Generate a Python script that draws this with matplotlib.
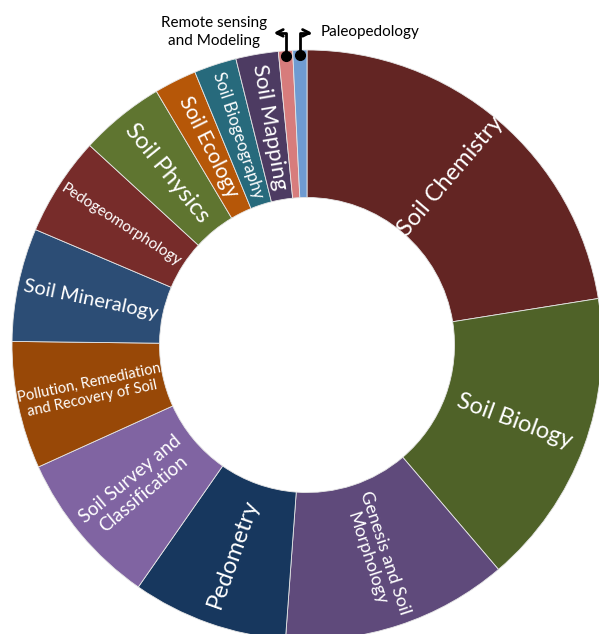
import matplotlib
matplotlib.use('Agg')
import matplotlib.pyplot as plt
import numpy as np

# number of papers per subdiscipline (clockwise from 12 o'clock)
labels = ['Soil Chemistry', 'Soil Biology', 'Genesis and Soil\nMorphology', 'Pedometry',
          'Soil Survey and\nClassification', 'Pollution, Remediation\nand Recovery of Soil',
          'Soil Mineralogy', 'Pedogeomorphology', 'Soil Physics', 'Soil Ecology',
          'Soil Biogeography', 'Soil Mapping', 'Remote sensing\nand Modeling', 'Paleopedology']
counts = [29, 21, 16, 11, 11, 9, 8, 7, 6, 3, 3, 3, 1, 1]
colors = ['#632523', '#4F6228', '#5F4A7B', '#17375E', '#8064A2', '#984807', '#2C4D75',
          '#772C2A', '#5F7530', '#B65708', '#276A7C', '#4D3B62', '#D77C7C', '#6F9BD1']
fsizes = [17, 17, 13, 17, 13.5, 10.5, 14.5, 11, 17, 15, 12, 16, 0, 0]

plt.rcParams['font.family'] = ['Lato', 'DejaVu Sans']

fig = plt.figure(figsize=(5.99, 6.34), dpi=100)
ax = fig.add_axes([0, 0, 1, 1])

ax.pie(counts, colors=colors, startangle=90, counterclock=False, radius=1,
       wedgeprops=dict(width=0.5, edgecolor='#e6e6e6', linewidth=0.6))

# labels placed radially in the middle of the ring
total = float(sum(counts))
cum = np.cumsum(counts) - np.array(counts) / 2.0
mids = cum / total * 360.0  # clockwise from top
for lab, th, fs in zip(labels, mids, fsizes):
    if fs == 0:
        continue
    phi = 90 - th
    x = 0.75 * np.cos(np.radians(phi))
    y = 0.75 * np.sin(np.radians(phi))
    rot = phi
    while rot <= -90:
        rot += 180
    while rot > 90:
        rot -= 180
    ax.text(x, y, lab, rotation=rot, rotation_mode='anchor', ha='center', va='center',
            multialignment='center', color='white', fontsize=fs, linespacing=1.2)

# callouts for the two tiny slices
for i, side in [(12, -1), (13, 1)]:
    phi = np.radians(90 - mids[i])
    dx, dy = 0.983 * np.cos(phi), 0.983 * np.sin(phi)
    ax.plot(dx, dy, 'o', color='black', markersize=7, zorder=5)
    tip = (dx + side * 0.042, 1.058)
    ax.annotate('', xy=tip, xytext=(dx, dy),
                arrowprops=dict(arrowstyle='->', color='black', lw=2,
                                connectionstyle='angle,angleA=90,angleB=0,rad=0',
                                shrinkA=0, shrinkB=0, mutation_scale=12))
    if side < 0:
        ax.text(-0.315, 1.061, labels[i], ha='center', va='center', multialignment='center',
                fontsize=11, color='black', linespacing=1.3)
    else:
        ax.text(tip[0] + 0.027, 1.061, labels[i], ha='left', va='center',
                fontsize=11, color='black')

ax.set_xlim(-1.0407, 0.9898)
ax.set_ylim(-0.9797, 1.1695)
ax.set_aspect('equal')
ax.axis('off')

plt.savefig('out.png', dpi=100)
